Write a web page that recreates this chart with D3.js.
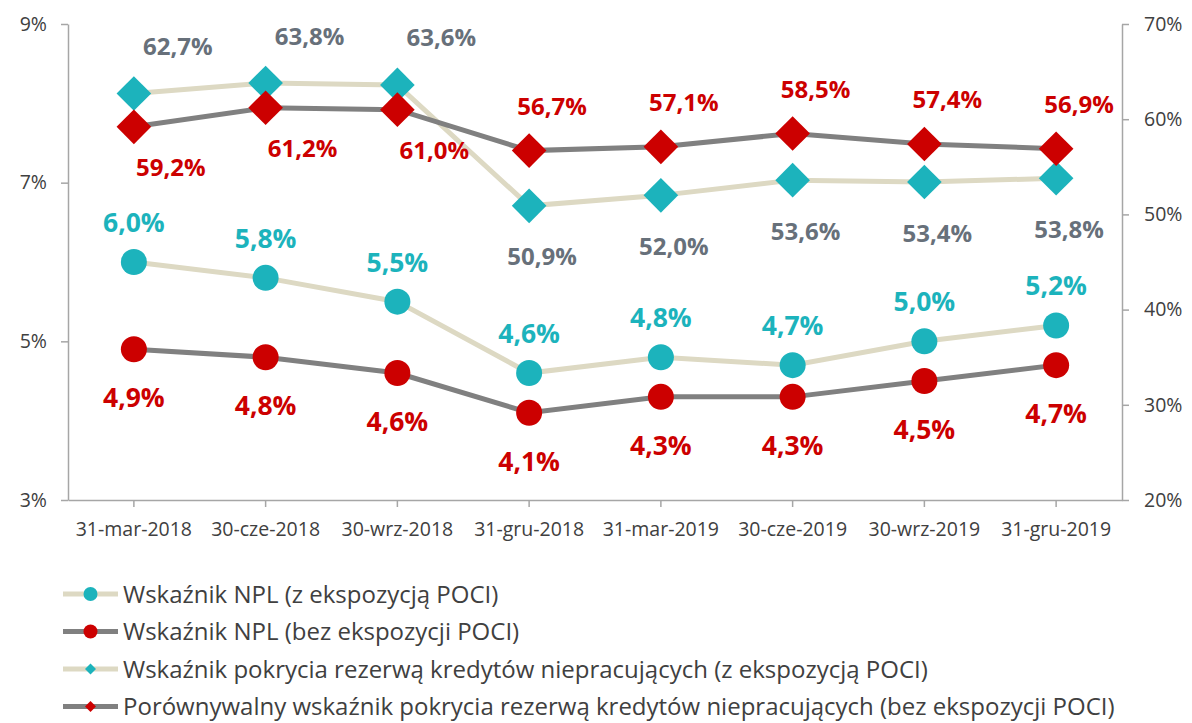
<!DOCTYPE html>
<html>
<head>
<meta charset="utf-8">
<script src="https://cdn.jsdelivr.net/npm/d3@7/dist/d3.min.js"></script>
<style>
  body { margin: 0; background: #fff; }
  svg { font-family: "Open Sans", sans-serif; }
  .axis path, .axis line { stroke: #A6A6A6; stroke-width: 1.5px; }
  .axis text { fill: #404040; font-size: 19.5px; font-family: "Open Sans", sans-serif; }
</style>
</head>
<body>
<div id="chart"></div>
<script>
"use strict";

// dane
var categories = ["31-mar-2018", "30-cze-2018", "30-wrz-2018", "31-gru-2018",
                  "31-mar-2019", "30-cze-2019", "30-wrz-2019", "31-gru-2019"];
var nplWithPoci = [6.0, 5.8, 5.5, 4.6, 4.8, 4.7, 5.0, 5.2];
var nplWithoutPoci = [4.9, 4.8, 4.6, 4.1, 4.3, 4.3, 4.5, 4.7];
var coverageWithPoci = [62.7, 63.8, 63.6, 50.9, 52.0, 53.6, 53.4, 53.8];
var coverageWithoutPoci = [59.2, 61.2, 61.0, 56.7, 57.1, 58.5, 57.4, 56.9];
var leftTicks = [3, 5, 7, 9];
var rightTicks = [20, 30, 40, 50, 60, 70];
var legendLabels = [
  "Wskaźnik NPL (z ekspozycją POCI)",
  "Wskaźnik NPL (bez ekspozycji POCI)",
  "Wskaźnik pokrycia rezerwą kredytów niepracujących (z ekspozycją POCI)",
  "Porównywalny wskaźnik pokrycia rezerwą kredytów niepracujących (bez ekspozycji POCI)"
];

var TEAL = "#1CB3BC";
var RED = "#CC0000";
var BEIGE = "#DDD9C3";
var GRAY = "#808080";
var LABEL_GRAY = "#67707A";

var width = 1192, height = 723;

var svg = d3.select("#chart").append("svg")
    .attr("width", width)
    .attr("height", height);

var x = d3.scaleBand().domain(categories).range([68, 1122]);
var cx = function(i) { return x(categories[i]) + x.bandwidth() / 2; };
var yL = d3.scaleLinear().domain([3, 9]).range([500, 24]);
var yR = d3.scaleLinear().domain([20, 70]).range([500, 24]);

function fmt(v) { return v.toFixed(1).replace(".", ",") + "%"; }

// osie
svg.append("g")
    .attr("class", "axis")
    .attr("transform", "translate(68,0)")
    .call(d3.axisLeft(yL).tickValues(leftTicks).tickSize(7).tickSizeOuter(0)
      .tickPadding(14).tickFormat(function(d) { return d + "%"; }));

svg.append("g")
    .attr("class", "axis")
    .attr("transform", "translate(1122,0)")
    .call(d3.axisRight(yR).tickValues(rightTicks).tickSize(7).tickSizeOuter(0)
      .tickPadding(15).tickFormat(function(d) { return d + "%"; }));

svg.append("g")
    .attr("class", "axis")
    .attr("transform", "translate(0,500)")
    .call(d3.axisBottom(x).tickSize(7).tickSizeOuter(0).tickPadding(15));

var diamond = d3.symbol().type(d3.symbolSquare).size(600);

var series = [
  { values: nplWithPoci, y: yL, line: BEIGE, marker: TEAL, shape: "circle",
    labelColor: TEAL, size: 26.5,
    dy: function(i) { return -40; }, dx: function(i) { return 0; } },
  { values: nplWithoutPoci, y: yL, line: GRAY, marker: RED, shape: "circle",
    labelColor: RED, size: 26.5,
    dy: function(i) { return 48; }, dx: function(i) { return 0; } },
  { values: coverageWithPoci, y: yR, line: BEIGE, marker: TEAL, shape: "diamond",
    labelColor: LABEL_GRAY, size: 24,
    dy: function(i) { return coverageWithPoci[i] > coverageWithoutPoci[i] ? -48 : 50; },
    dx: function(i) { return coverageWithPoci[i] > coverageWithoutPoci[i] ? 44 : 13; } },
  { values: coverageWithoutPoci, y: yR, line: GRAY, marker: RED, shape: "diamond",
    labelColor: RED, size: 24,
    dy: function(i) { return coverageWithPoci[i] > coverageWithoutPoci[i] ? 40 : -45; },
    dx: function(i) { return coverageWithPoci[i] > coverageWithoutPoci[i] ? 37 : 23; } }
];

series.forEach(function(s) {
  var line = d3.line()
      .x(function(d, i) { return cx(i); })
      .y(function(d) { return s.y(d); });

  svg.append("path")
      .datum(s.values)
      .attr("d", line)
      .attr("fill", "none")
      .attr("stroke", s.line)
      .attr("stroke-width", 5);

  var g = svg.append("g");
  if (s.shape === "circle") {
    g.selectAll("circle").data(s.values).enter().append("circle")
        .attr("cx", function(d, i) { return cx(i); })
        .attr("cy", function(d) { return s.y(d); })
        .attr("r", 13)
        .attr("fill", s.marker);
  } else {
    g.selectAll("path").data(s.values).enter().append("path")
        .attr("d", diamond)
        .attr("transform", function(d, i) {
          return "translate(" + cx(i) + "," + s.y(d) + ") rotate(45)";
        })
        .attr("fill", s.marker);
  }
});

// etykiety danych (na wierzchu)
series.forEach(function(s) {
  svg.append("g").selectAll("text").data(s.values).enter().append("text")
      .attr("x", function(d, i) { return cx(i) + s.dx(i); })
      .attr("y", function(d, i) { return s.y(d) + s.dy(i); })
      .attr("text-anchor", "middle")
      .attr("dominant-baseline", "central")
      .attr("font-size", s.size)
      .attr("font-weight", "bold")
      .attr("fill", s.labelColor)
      .text(fmt);
});

// legenda
var legend = svg.append("g");
series.forEach(function(s, i) {
  var ly = 594 + i * 37.5;
  var row = legend.append("g").attr("transform", "translate(0," + ly + ")");
  row.append("line")
      .attr("x1", 63).attr("x2", 118)
      .attr("stroke", s.line).attr("stroke-width", 5);
  if (s.shape === "circle") {
    row.append("circle").attr("cx", 90.5).attr("r", 7).attr("fill", s.marker);
  } else {
    row.append("path")
        .attr("d", d3.symbol().type(d3.symbolSquare).size(60))
        .attr("transform", "translate(90.5,0) rotate(45)")
        .attr("fill", s.marker);
  }
  row.append("text")
      .attr("x", 123)
      .attr("y", -1)
      .attr("dominant-baseline", "central")
      .attr("font-size", 24)
      .attr("fill", "#404040")
      .text(legendLabels[i]);
});
</script>
</body>
</html>
